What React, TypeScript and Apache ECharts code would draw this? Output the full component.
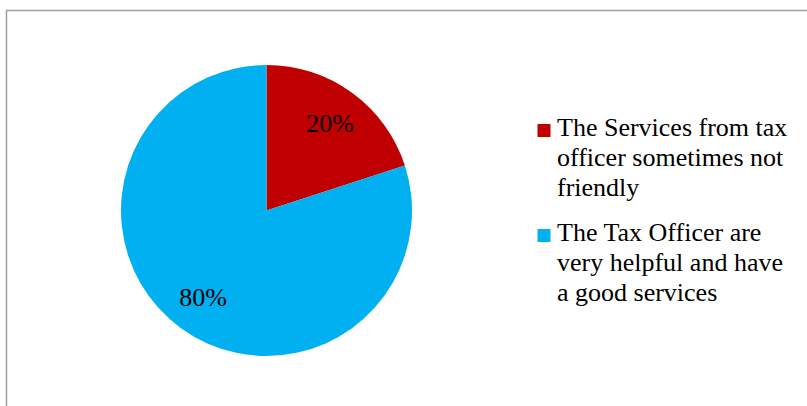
import React, { useEffect, useRef } from "react";
import * as echarts from "echarts";

const categories = [
  "The Services from tax officer sometimes not friendly",
  "The Tax Officer are very helpful and have a good services",
];
const legendLines = [
  ["The Services from tax", "officer sometimes not", "friendly"],
  ["The Tax Officer are", "very helpful and have", "a good services"],
];
const values = [20, 80];
const colors = ["#C00000", "#00B0F0"];

const FONT = "Liberation Serif";

export default function App() {
  const ref = useRef<HTMLDivElement>(null);
  useEffect(() => {
    if (!ref.current) return;
    const chart = echarts.init(ref.current, null, { renderer: "svg" });
    const data = categories.map((name, i) => ({
      name,
      value: values[i],
      itemStyle: { color: colors[i] },
    }));
    const legendTops = [112, 217];
    const graphics: any[] = [
      {
        type: "rect",
        shape: { x: 6.5, y: 10.5, width: 900, height: 500 },
        style: { fill: "none", stroke: "#a0a0a0", lineWidth: 1.5 },
        silent: true,
      },
    ];
    legendLines.forEach((_lines, i) => {
      graphics.push({
        type: "rect",
        shape: { x: 537.5, y: legendTops[i] + 12, width: 13, height: 13 },
        style: { fill: colors[i] },
      });
    });
    const titles = legendLines.map((lines, i) => ({
      text: lines.join("\n"),
      left: 557,
      top: legendTops[i],
      padding: 0,
      textStyle: {
        fontFamily: FONT,
        fontSize: 26,
        fontWeight: "normal",
        lineHeight: 30,
        color: "#000",
      },
    }));
    chart.setOption({
      animation: false,
      backgroundColor: "#fff",
      title: titles,
      graphic: graphics,
      series: [
        {
          type: "pie",
          center: [266.5, 210.5],
          radius: [0, 145.5],
          startAngle: 90,
          clockwise: true,
          data,
          label: { show: false },
          labelLine: { show: false },
          silent: true,
          emphasis: { disabled: true },
        },
        {
          type: "pie",
          center: [266.5, 210.5],
          radius: [65, 145],
          startAngle: 90,
          clockwise: true,
          data: categories.map((name, i) => ({
            name,
            value: values[i],
            itemStyle: { color: "rgba(0,0,0,0)" },
          })),
          label: {
            show: true,
            position: "inside",
            formatter: "{d}%",
            fontFamily: FONT,
            fontSize: 26,
            color: "#000",
          },
          labelLine: { show: false },
          silent: true,
          emphasis: { disabled: true },
        },
      ],
    });
    return () => chart.dispose();
  }, []);
  return (
    <div
      ref={ref}
      style={{ position: "fixed", left: 0, top: 0, width: 807, height: 406 }}
    />
  );
}
